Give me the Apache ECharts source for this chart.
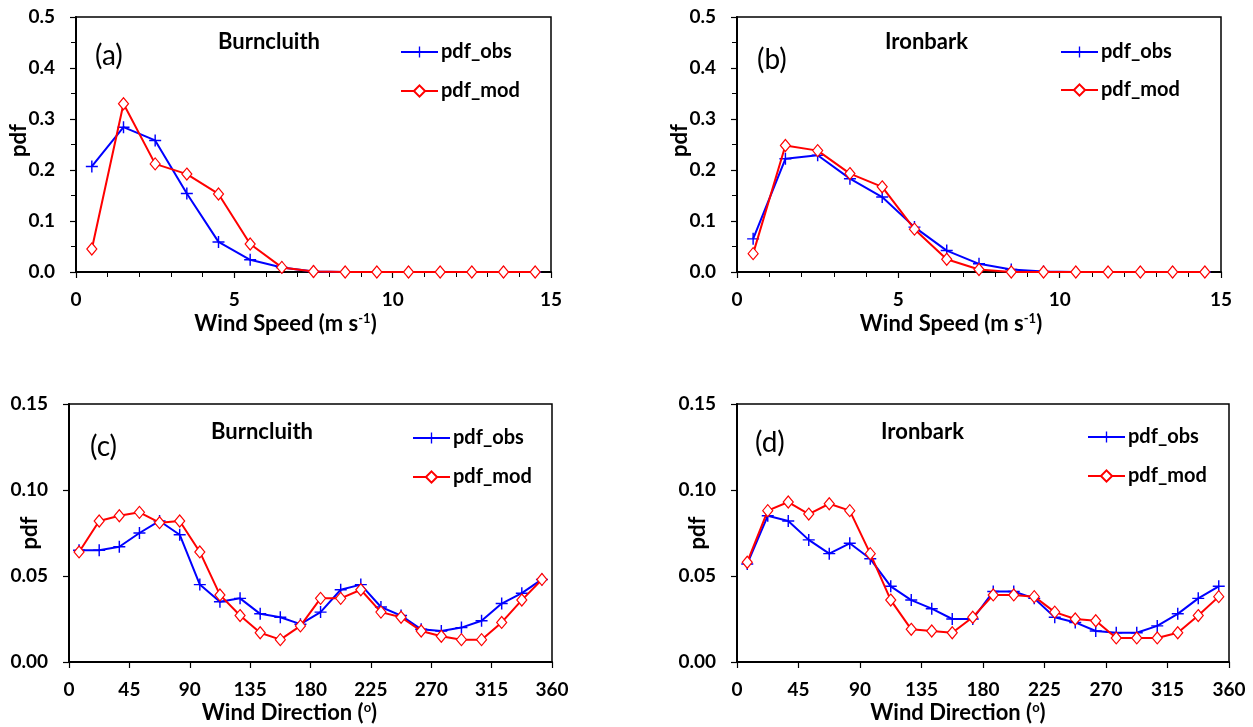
<!DOCTYPE html>
<html>
<head>
<meta charset="utf-8">
<script src="https://cdn.jsdelivr.net/npm/echarts@6/dist/echarts.min.js"></script>
<style>
html,body{margin:0;padding:0;background:#fff;}
#c{width:1253px;height:727px;}
</style>
</head>
<body>
<div id="c"></div>
<script>
// ---- data ----
const speedBins = [0.5,1.5,2.5,3.5,4.5,5.5,6.5,7.5,8.5,9.5,10.5,11.5,12.5,13.5,14.5];
const dirBins = [7.5,22.5,37.5,52.5,67.5,82.5,97.5,112.5,127.5,142.5,157.5,172.5,187.5,202.5,217.5,232.5,247.5,262.5,277.5,292.5,307.5,322.5,337.5,352.5];

const burnSpeedObs = [0.207,0.284,0.258,0.154,0.059,0.024,0.009,0.001,0,0,0,0,0,0,0];
const burnSpeedMod = [0.045,0.330,0.212,0.192,0.153,0.055,0.009,0.001,0,0,0,0,0,0,0];
const ironSpeedObs = [0.065,0.222,0.229,0.183,0.147,0.088,0.042,0.016,0.005,0.001,0,0,0,0,0];
const ironSpeedMod = [0.036,0.248,0.238,0.193,0.167,0.084,0.025,0.005,0,0,0,0,0,0,0];

const burnDirObs = [0.065,0.065,0.067,0.075,0.082,0.074,0.045,0.035,0.037,0.028,0.026,0.022,0.029,0.042,0.045,0.032,0.027,0.019,0.018,0.020,0.024,0.034,0.040,0.048];
const burnDirMod = [0.064,0.082,0.085,0.087,0.081,0.082,0.064,0.039,0.027,0.017,0.013,0.021,0.037,0.037,0.042,0.029,0.026,0.018,0.015,0.013,0.013,0.023,0.036,0.048];
const ironDirObs = [0.057,0.085,0.082,0.071,0.063,0.069,0.060,0.044,0.036,0.031,0.025,0.025,0.041,0.041,0.037,0.026,0.023,0.018,0.017,0.017,0.021,0.028,0.037,0.044];
const ironDirMod = [0.058,0.088,0.093,0.086,0.092,0.088,0.063,0.036,0.019,0.018,0.017,0.026,0.039,0.039,0.038,0.029,0.025,0.024,0.014,0.014,0.014,0.017,0.027,0.038];

const seriesNames = ['pdf_obs','pdf_mod'];
const siteNames = ['Burncluith','Ironbark','Burncluith','Ironbark'];
const panelTags = ['(a)','(b)','(c)','(d)'];

// ---- layout ----
const FONT = 'Lato, "Open Sans", sans-serif';
const grids = [
  {left:76, top:17, width:475, height:255},
  {left:737, top:17, width:484, height:255},
  {left:69, top:404, width:483, height:258},
  {left:737, top:404, width:492, height:258}
];
const plusPath = 'path://M0,4.4H10V5.6H0Z M4.4,0H5.6V10H4.4Z';

function pairs(xs, ys){ return xs.map((x,i)=>[x, ys[i]]); }

const chart = echarts.init(document.getElementById('c'), null, {renderer:'canvas'});

const labelStyle = {color:'#000', fontFamily:FONT, fontWeight:'bold', fontSize:19};
const supStyle = {fontSize:13, fontFamily:FONT, fontWeight:'bold', color:'#000', verticalAlign:'top', padding:[0,0,11,0]};

const xAxes = [], yAxes = [], series = [];
const yNameGaps = [46,46,28,28];
const yNameShift = [8,8,0,0];
const xNameShift = [56,56,42,50];
for (let i=0;i<4;i++){
  const isSpeed = i<2;
  xAxes.push({
    type:'value', gridIndex:i, min:0, max:isSpeed?15:360, interval:isSpeed?5:45,
    name: isSpeed ? 'Wind Speed (m s{sup|-1})' : 'Wind Direction ({sup|o})',
    nameLocation:'middle', nameGap:isSpeed?40:39, nameMoveOverlap:false,
    nameTextStyle:{color:'#000', fontFamily:FONT, fontWeight:'bold', fontSize:22,
      padding:[0,xNameShift[i],0,0], rich:{sup:supStyle}},
    axisLine:{show:true, onZero:false, lineStyle:{color:'#000', width:2}},
    axisTick:{show:true, length:6, lineStyle:{color:'#000', width:1.2}},
    minorTick:{show:isSpeed, splitNumber:5, length:5, lineStyle:{color:'#000', width:1}},
    splitLine:{show:false}, minorSplitLine:{show:false},
    axisLabel:{...labelStyle, margin:18}
  });
  yAxes.push({
    type:'value', gridIndex:i, min:0, max:isSpeed?0.5:0.15, interval:isSpeed?0.1:0.05,
    name:'pdf', nameLocation:'middle', nameGap:yNameGaps[i], nameRotate:90, nameMoveOverlap:false,
    nameTextStyle:{color:'#000', fontFamily:FONT, fontWeight:'bold', fontSize:22, padding:[0,0,0,yNameShift[i]]},
    axisLine:{show:true, onZero:false, lineStyle:{color:'#000', width:2}},
    axisTick:{show:true, length:6, lineStyle:{color:'#000', width:1.2}},
    minorTick:{show:isSpeed, splitNumber:2, length:5, lineStyle:{color:'#000', width:1}},
    splitLine:{show:false}, minorSplitLine:{show:false},
    axisLabel:{...labelStyle, margin:21, formatter:(v)=>v.toFixed(isSpeed?1:2)}
  });
}

const obsData = [pairs(speedBins,burnSpeedObs), pairs(speedBins,ironSpeedObs), pairs(dirBins,burnDirObs), pairs(dirBins,ironDirObs)];
const modData = [pairs(speedBins,burnSpeedMod), pairs(speedBins,ironSpeedMod), pairs(dirBins,burnDirMod), pairs(dirBins,ironDirMod)];

for (let i=0;i<4;i++){
  series.push({
    name:seriesNames[0], type:'line', xAxisIndex:i, yAxisIndex:i, data:obsData[i],
    color:'#0000ff', clip:false, z:3,
    lineStyle:{color:'#0000ff', width:2},
    symbol:plusPath, symbolSize:12, showAllSymbol:true,
    itemStyle:{color:'#0000ff'}
  });
  series.push({
    name:seriesNames[1], type:'line', xAxisIndex:i, yAxisIndex:i, data:modData[i],
    color:'#ff0000', clip:false, z:4,
    lineStyle:{color:'#ff0000', width:2},
    symbol:'diamond', symbolSize:[10,12], showAllSymbol:true,
    itemStyle:{color:'#ffffff', borderColor:'#ff0000', borderWidth:1.2}
  });
}

const legendPos = [
  {left:395, top:37, gap:19},
  {left:1055, top:37, gap:18},
  {left:407, top:423, gap:19},
  {left:1082, top:422, gap:19}
];
const legends = legendPos.map(p=>({
  orient:'vertical', left:p.left, top:p.top, itemGap:p.gap,
  itemWidth:37, itemHeight:14, selectedMode:false,
  data:seriesNames,
  textStyle:{color:'#000', fontFamily:FONT, fontWeight:'bold', fontSize:20, padding:[0,0,0,-2]}
}));

const tagPos = [[95,56],[757,60],[90,447],[755,443]];
const sitePos = [[218,42],[885,42],[211,432],[881,432]];
const graphic = [];
for (let i=0;i<4;i++){
  graphic.push({type:'text', x:tagPos[i][0], y:tagPos[i][1], z:10,
    style:{text:panelTags[i], fill:'#000', fontFamily:FONT, fontSize:28, verticalAlign:'middle', align:'left'}});
  graphic.push({type:'text', x:sitePos[i][0], y:sitePos[i][1], z:10,
    style:{text:siteNames[i], fill:'#000', fontFamily:FONT, fontWeight:'bold', fontSize:22, verticalAlign:'middle', align:'left'}});
}

chart.setOption({
  backgroundColor:'#fff',
  animation:false,
  grid: grids.map(g=>({...g, show:true, borderColor:'#000', borderWidth:1.5, backgroundColor:'transparent', containLabel:false, outerBoundsMode:'none'})),
  xAxis:xAxes, yAxis:yAxes, series:series, legend:legends, graphic:graphic
});
</script>
</body>
</html>
